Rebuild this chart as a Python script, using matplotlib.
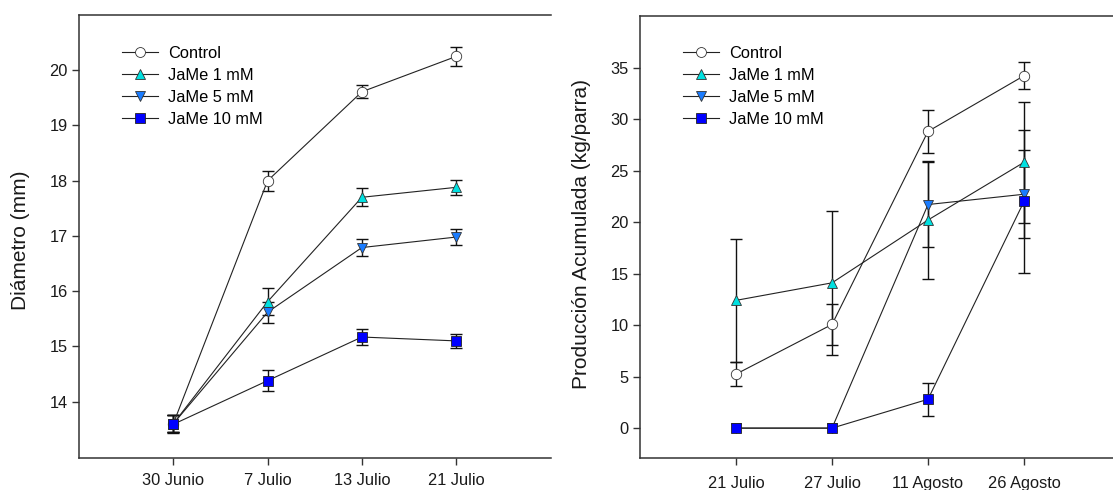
import numpy as np
import matplotlib
matplotlib.use("Agg")
import matplotlib.pyplot as plt

plt.rcParams['font.family'] = ['Liberation Sans', 'DejaVu Sans']

# ---- data: left panel (diameter) ----
fechas_diam = ["30 Junio", "7 Julio", "13 Julio", "21 Julio"]
diam_control = [13.6, 18.0, 19.61, 20.25]
diam_control_err = [0.15, 0.18, 0.12, 0.17]
diam_jame1 = [13.6, 15.81, 17.70, 17.88]
diam_jame1_err = [0.15, 0.25, 0.16, 0.14]
diam_jame5 = [13.6, 15.62, 16.79, 16.98]
diam_jame5_err = [0.15, 0.19, 0.15, 0.15]
diam_jame10 = [13.59, 14.38, 15.17, 15.10]
diam_jame10_err = [0.16, 0.19, 0.15, 0.13]

# ---- data: right panel (accumulated yield) ----
fechas_prod = ["21 Julio", "27 Julio", "11 Agosto", "26 Agosto"]
prod_control = [5.24, 10.06, 28.8, 34.2]
prod_control_err = [1.2, 1.95, 2.1, 1.3]
prod_jame1 = [12.4, 14.1, 20.2, 25.8]
prod_jame1_err = [6.0, 7.0, 5.7, 5.9]
prod_jame5 = [0.0, 0.0, 21.7, 22.7]
prod_jame5_err = [0.0, 0.0, 4.1, 4.25]
prod_jame10 = [0.0, 0.0, 2.8, 22.0]
prod_jame10_err = [0.0, 0.0, 1.6, 6.9]

labels = ["Control", "JaMe 1 mM", "JaMe 5 mM", "JaMe 10 mM"]

styles = [
    dict(marker='o', mfc='white', mec='#333333'),
    dict(marker='^', mfc='#00e0e0', mec='#333333'),
    dict(marker='v', mfc='#1a7cff', mec='#333333'),
    dict(marker='s', mfc='#0000ff', mec='#222222'),
]

FS = 11.8
FS_LAB = 15.0
W, H = 1113, 490
fig = plt.figure(figsize=(W / 100, H / 100), dpi=100)

ax1 = fig.add_axes([79 / W, 32 / H, 471.5 / W, 443 / H])
ax2 = fig.add_axes([640 / W, 32 / H, 480 / W, 442 / H])


def draw(ax, cats, series, errs, ylim, yticks, ylabel, leg_x, xpad, lab_x, lab_y):
    x = np.arange(len(cats))
    handles = []
    for s, e, st, lab in zip(series, errs, styles, labels):
        e = np.array(e, dtype=float)
        ax.errorbar(x, s, yerr=np.where(e > 0, e, np.nan), fmt='none',
                    ecolor='#111111', elinewidth=1.0, capsize=4.5,
                    capthick=1.0, zorder=2)
        h, = ax.plot(x, s, color='#222222', lw=0.8, marker=st['marker'],
                     markersize=7.5, markerfacecolor=st['mfc'],
                     markeredgecolor=st['mec'], markeredgewidth=0.6,
                     label=lab, zorder=3)
        handles.append(h)
    ax.set_xlim(-1, 4)
    ax.set_ylim(*ylim)
    ax.set_xticks(x)
    ax.set_xticklabels(cats)
    ax.set_yticks(yticks)
    ax.set_ylabel(ylabel, fontsize=FS_LAB, color='#1a1a1a')
    ax.yaxis.set_label_coords(lab_x, lab_y)
    for sp in ['left', 'bottom', 'top']:
        ax.spines[sp].set_color('#333333')
        ax.spines[sp].set_linewidth(1.1)
    ax.spines['right'].set_visible(False)
    ax.tick_params(axis='both', direction='out', length=5, width=1.0,
                   color='#333333', labelsize=FS, labelcolor='#1a1a1a')
    ax.tick_params(axis='x', pad=xpad)
    ax.tick_params(axis='y', pad=3)
    ax.legend(handles=handles, loc='upper left',
              bbox_to_anchor=(leg_x / W, 1 - 46 / H),
              bbox_transform=fig.transFigure, frameon=False, fontsize=FS,
              handlelength=2.2, handletextpad=0.6, labelspacing=0.42,
              borderpad=0, borderaxespad=0, markerscale=0.95)


draw(ax1, fechas_diam, [diam_control, diam_jame1, diam_jame5, diam_jame10],
     [diam_control_err, diam_jame1_err, diam_jame5_err, diam_jame10_err],
     (12.98, 21.0), [14, 15, 16, 17, 18, 19, 20], "Diámetro (mm)", 122, 6,
     -0.104, 0.492)

draw(ax2, fechas_prod, [prod_control, prod_jame1, prod_jame5, prod_jame10],
     [prod_control_err, prod_jame1_err, prod_jame5_err, prod_jame10_err],
     (-2.9, 40.0), [0, 5, 10, 15, 20, 25, 30, 35],
     "Producción Acumulada (kg/parra)", 683, 8, -0.102, 0.506)

fig.savefig("out.png", dpi=100)
